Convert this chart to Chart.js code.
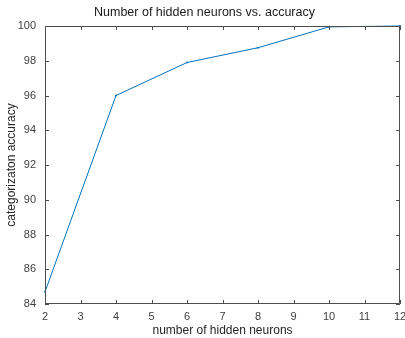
<!DOCTYPE html>
<html>
<head>
<meta charset="utf-8">
<script src="https://cdn.jsdelivr.net/npm/chart.js@4.4.0/dist/chart.umd.min.js"></script>
<style>
  html, body { margin: 0; padding: 0; background: #fff; }
  #wrap { width: 405px; height: 338px; }
</style>
</head>
<body>
<div id="wrap"><canvas id="chart" width="405" height="338"></canvas></div>
<script>
const neurons = [2, 4, 6, 8, 10, 12]
const accuracy = [84.7, 96.0, 97.9, 98.75, 99.95, 100]
const xTicks = [2, 3, 4, 5, 6, 7, 8, 9, 10, 11, 12]
const yTicks = [84, 86, 88, 90, 92, 94, 96, 98, 100]

const axisColor = "#4d4d4d"
const font = "'Liberation Sans', Arial, sans-serif"

// MATLAB-style box with inward ticks on all four sides
const boxTicks = {
    id: "boxTicks",
    afterDraw(chart) {
        const { ctx, chartArea: a, scales } = chart
        ctx.save()
        ctx.strokeStyle = axisColor
        ctx.lineWidth = 1
        ctx.beginPath()
        ctx.rect(a.left + 0.5, a.top + 0.5, a.right - a.left - 1, a.bottom - a.top - 1)
        xTicks.forEach(v => {
            const x = Math.round(scales.x.getPixelForValue(v)) + 0.5
            ctx.moveTo(x, a.bottom); ctx.lineTo(x, a.bottom - 4)
            ctx.moveTo(x, a.top); ctx.lineTo(x, a.top + 4)
        })
        yTicks.forEach(v => {
            const y = Math.round(scales.y.getPixelForValue(v)) + 0.5
            ctx.moveTo(a.left, y); ctx.lineTo(a.left + 4, y)
            ctx.moveTo(a.right, y); ctx.lineTo(a.right - 4, y)
        })
        ctx.stroke()
        ctx.restore()
    }
}

new Chart(document.getElementById("chart"), {
    type: "line",
    data: {
        datasets: [{
            data: neurons.map((n, i) => ({ x: n, y: accuracy[i] })),
            borderColor: "#0072BD",
            borderWidth: 1,
            pointRadius: 1,
            pointBackgroundColor: "#0072BD",
            pointBorderWidth: 0,
            tension: 0,
            clip: false
        }]
    },
    options: {
        responsive: false,
        animation: false,
        layout: { padding: { left: 4, right: 0, top: 0, bottom: 0 } },
        plugins: {
            legend: { display: false },
            tooltip: { enabled: false },
            title: {
                display: true,
                text: "Number of hidden neurons vs. accuracy",
                color: "#1a1a1a",
                font: { family: font, size: 12.5, weight: "normal" },
                padding: { top: 5, bottom: 6 }
            }
        },
        scales: {
            x: {
                type: "linear",
                min: 2, max: 12,
                afterBuildTicks: s => { s.ticks = xTicks.map(v => ({ value: v })) },
                afterFit: s => { s.height = 34; s.paddingLeft = 0; s.paddingRight = 5 },
                grid: { display: false, drawTicks: false },
                border: { display: false },
                ticks: { color: "#404040", font: { family: font, size: 11 }, padding: 6, maxRotation: 0 },
                title: { display: true, text: "number of hidden neurons", color: "#262626", font: { family: font, size: 12 }, padding: { top: 2, bottom: 0 } }
            },
            y: {
                min: 84, max: 100,
                afterBuildTicks: s => { s.ticks = yTicks.map(v => ({ value: v })) },
                afterFit: s => { s.width = 41 },
                grid: { display: false, drawTicks: false },
                border: { display: false },
                ticks: { color: "#404040", font: { family: font, size: 11 }, padding: 9 },
                title: { display: true, text: "categorizaton accuracy", color: "#262626", font: { family: font, size: 12 }, padding: { top: 0, bottom: 0 } }
            }
        }
    },
    plugins: [boxTicks]
})
</script>
</body>
</html>
